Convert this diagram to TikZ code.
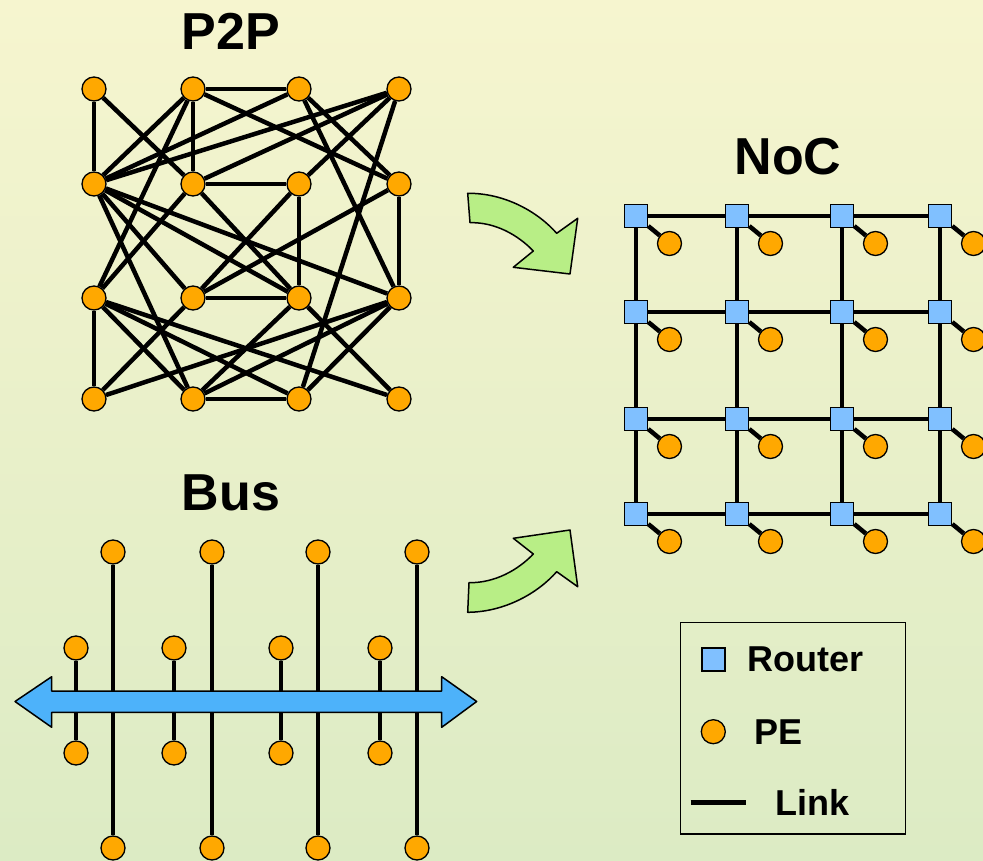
\documentclass[tikz,border=0pt]{standalone}
\usepackage{fontspec}
\setmainfont{Liberation Sans}
\usetikzlibrary{calc,positioning}

\definecolor{bgtop}{RGB}{246,245,207}
\definecolor{bgmid}{RGB}{254,247,211}
\definecolor{bgbot}{RGB}{220,235,196}
\definecolor{peorange}{RGB}{255,168,0}
\definecolor{routerblue}{RGB}{128,192,255}
\definecolor{busblue}{RGB}{77,178,250}
\definecolor{arrowgreen}{RGB}{184,238,134}

\tikzset{
  pe/.style={circle, draw, fill=peorange, line width=1.3pt, minimum size=24pt, inner sep=0pt},
  router/.style={rectangle, draw, fill=routerblue, line width=1.5pt, minimum size=23pt, inner sep=0pt},
  link/.style={line width=4.5pt},
  outline/.style={draw, line width=1.5pt, line join=round},
  title/.style={font=\bfseries\fontsize{52}{60}\selectfont, inner sep=0pt},
  legtext/.style={font=\bfseries\fontsize{36}{42}\selectfont, inner sep=0pt, anchor=west}
}

\begin{document}
\begin{tikzpicture}[x=1pt,y=-1pt]
\useasboundingbox (0,0) rectangle (983,861);
\shade[top color=bgtop, middle color=bgmid, bottom color=bgbot] (0,0) rectangle (983,861);

\node[title] (ttlp) at (231,31) {P2P};
\node[title] (ttln) at (788,157) {NoC};
\node[title] (ttlb) at (231,493) {Bus};

\foreach \r/\y in {a/89,b/184,c/298,d/399}
  \foreach \c/\x in {1/94,2/193,3/299,4/399}
    \node[pe] (\r\c) at (\x,\y) {};

\foreach \u/\v in {a1/b1,a1/b2,a2/a3,a2/b2,a2/b1,a2/c1,a2/b4,a3/b1,a3/b4,a3/c4,
                   a4/b1,a4/b2,a4/b3,a4/d3,b1/c2,b1/c3,b1/c4,b1/d2,b2/b3,b2/c1,
                   b2/c3,b3/c3,b3/c2,b4/c4,b4/c2,c1/d1,c1/d2,c1/d3,c1/d4,c2/c3,
                   c2/d1,c3/d2,c3/d4,c4/d1,c4/d2,c4/d3,d2/d3}
  \draw[link] (\u) to (\v);

\foreach \i/\y in {1/216,2/312,3/419,4/514}
  \foreach \j/\x in {1/636,2/737,3/842,4/940} {
    \node[router] (r\i\j) at (\x,\y) {};
    \node[pe] (p\i\j) at ($(r\i\j)+(33.5,27.5)$) {};
    \draw[link] (r\i\j) to (p\i\j);
  }

\foreach \i in {1,...,4}
  \foreach \j/\k in {1/2,2/3,3/4} {
    \draw[link] (r\i\j) to (r\i\k);
    \draw[link] (r\j\i) to (r\k\i);
  }

\foreach \n/\x in {1/113,2/212,3/318,4/417} {
  \node[pe] (lt\n) at (\x,552) {};
  \node[pe] (lb\n) at (\x,848) {};
  \draw[link] (lt\n) to (lb\n);
}
\foreach \n/\x in {1/76,2/174,3/281,4/380} {
  \node[pe] (st\n) at (\x,648) {};
  \node[pe] (sb\n) at (\x,753) {};
  \draw[link] (st\n) to (sb\n);
}

\draw[outline, fill=busblue] (15,701.5) -- (51.7,676.7) -- (51.7,691) -- (441.7,691)
  -- (441.7,676.7) -- (476.7,701.5) -- (441.7,727.3) -- (441.7,712.3)
  -- (51.7,712.3) -- (51.7,727.3) -- cycle;

\draw[outline, fill=arrowgreen] (467.7,193.3) -- (470,222.7)
  .. controls (495,222) and (518,235) .. (533.3,251) -- (513.3,267.3)
  -- (570,274) -- (577.7,218.3) -- (556.7,233.3)
  .. controls (538,212) and (505,193) .. (467.7,193.3) -- cycle;

\draw[outline, fill=arrowgreen] (467.7,612.3) -- (469,582.7)
  .. controls (495,583) and (518,570) .. (533.3,554) -- (513.3,538.3)
  -- (570,530) -- (577.7,586.7) -- (556.7,571.7)
  .. controls (538,593) and (505,612) .. (467.7,612.3) -- cycle;

\draw[line width=1.5pt] (680.7,622.7) rectangle (905.7,834);
\node[router] (lgr) at (713.3,659.3) {};
\node[legtext, right=22pt of lgr] (lgrt) {Router};
\node[pe] (lgp) at (713.3,731.7) {};
\node[legtext, right=28pt of lgp] (lgpt) {PE};
\coordinate (lka) at (690.7,802.3);
\coordinate (lkb) at (746,802.3);
\draw[line width=4.5pt] (lka) to (lkb);
\node[legtext, right=29pt of lkb] (lkt) {Link};
\end{tikzpicture}
\end{document}
